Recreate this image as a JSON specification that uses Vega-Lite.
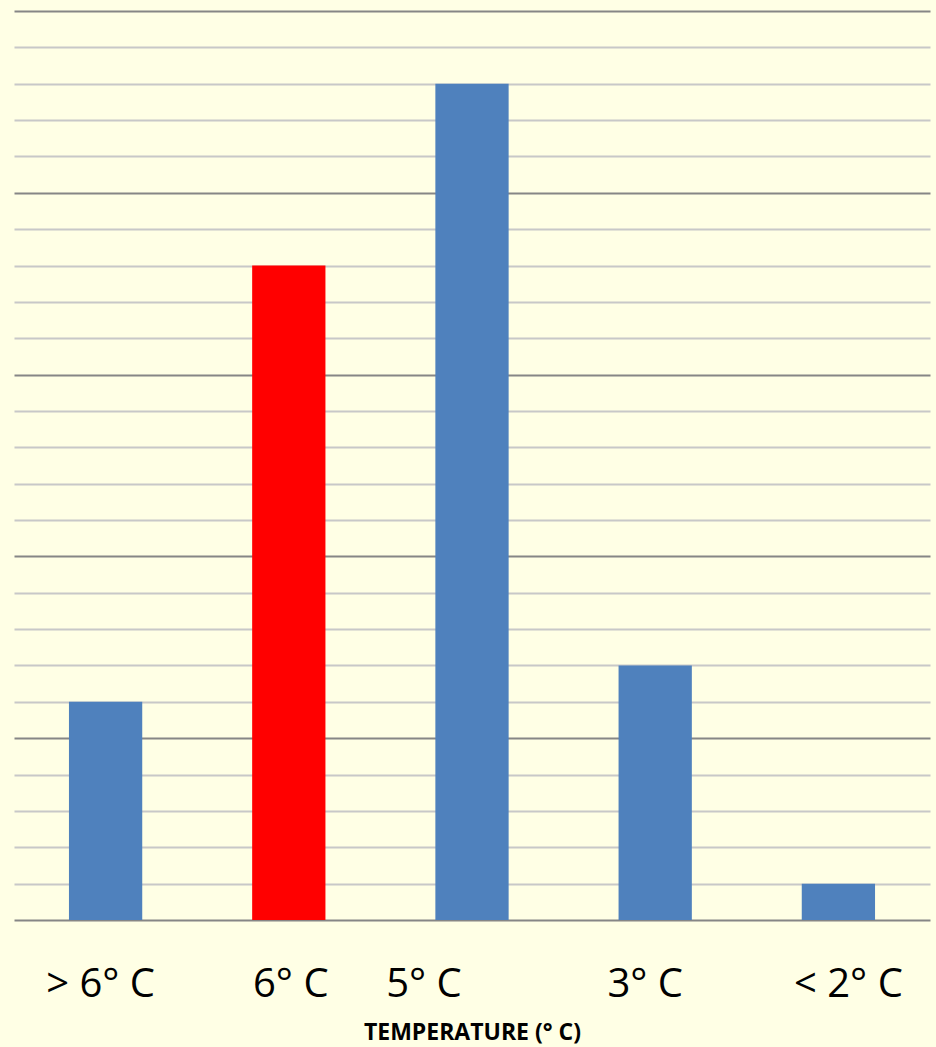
{
  "$schema": "https://vega.github.io/schema/vega-lite/v6.json",
  "autosize": "none",
  "width": 916,
  "height": 909,
  "padding": {"left": 14, "top": 11, "right": 6, "bottom": 127},
  "background": "#FFFFE5",
  "config": {"view": {"stroke": null}},
  "data": {"values": [
    {"temp": "> 6° C", "count": 6, "hl": "no"},
    {"temp": "6° C", "count": 18, "hl": "yes"},
    {"temp": "5° C", "count": 23, "hl": "no"},
    {"temp": "3° C", "count": 7, "hl": "no"},
    {"temp": "< 2° C", "count": 1, "hl": "no"}
  ]},
  "mark": {"type": "bar"},
  "encoding": {
    "x": {
      "field": "temp", "type": "nominal", "sort": null,
      "scale": {"paddingInner": 0.6, "paddingOuter": 0.3},
      "axis": {
        "title": "TEMPERATURE (° C)",
        "titleFont": "Open Sans", "titleFontSize": 23, "titleFontWeight": "bold", "titleColor": "#000000",
        "titlePadding": 17,
        "labelFont": "Open Sans", "labelFontSize": 40, "labelColor": "#000000",
        "labelAngle": 0, "labelPadding": 64, "labelBaseline": "middle",
        "labelOffset": {"condition": [
          {"test": "datum.value === '5° C'", "value": -48},
          {"test": "datum.value === '3° C'", "value": -10},
          {"test": "datum.value === '< 2° C'", "value": 10},
          {"test": "datum.value === '> 6° C'", "value": -5}
        ], "value": 2},
        "ticks": false, "domain": false, "grid": false
      }
    },
    "y": {
      "field": "count", "type": "quantitative",
      "scale": {"domain": [0, 25], "nice": false},
      "axis": {
        "title": null, "labels": false, "ticks": false, "domain": false,
        "values": [0,1,2,3,4,5,6,7,8,9,10,11,12,13,14,15,16,17,18,19,20,21,22,23,24,25],
        "grid": true, "gridWidth": 2,
        "gridColor": {"condition": {"test": "datum.value % 5 === 0", "value": "#868686"}, "value": "#C8C8C8"}
      }
    },
    "color": {
      "field": "hl", "type": "nominal",
      "scale": {"domain": ["no", "yes"], "range": ["#4F81BD", "#FF0000"]},
      "legend": null
    }
  }
}
